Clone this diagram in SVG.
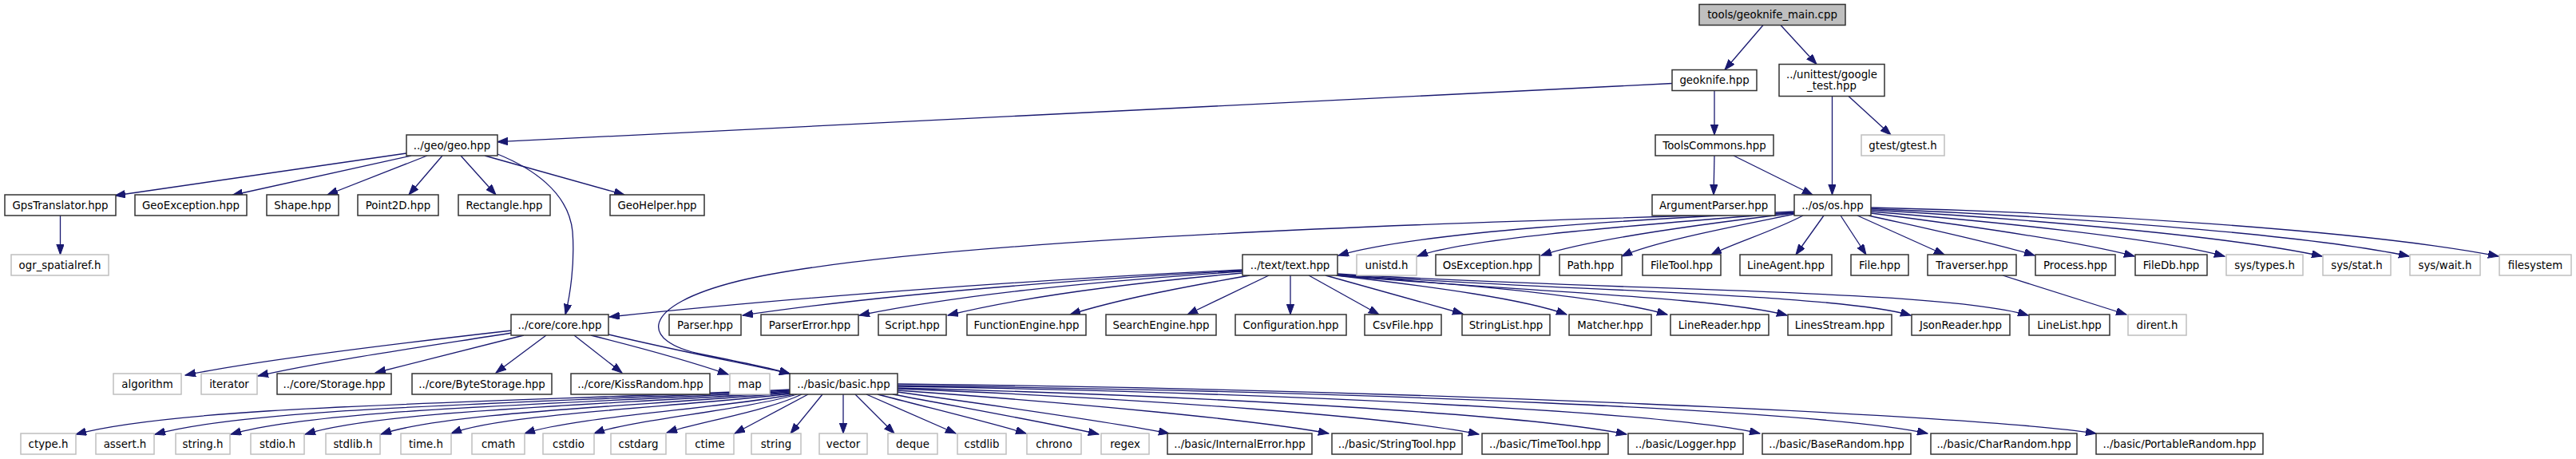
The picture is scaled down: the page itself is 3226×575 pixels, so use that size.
<svg xmlns="http://www.w3.org/2000/svg" width="3226" height="575" viewBox="0 0 3226 575">
<style>
.n rect{fill:#fff;stroke:#333;stroke-width:1.5}
.n.g rect{stroke:#bfbfbf}
.n.r rect{fill:#bfbfbf}
text{font-family:"DejaVu Sans",sans-serif;font-size:13.33px;text-anchor:middle;fill:#000}
#edges path{fill:none;stroke:#191970;stroke-width:1.3;marker-end:url(#a)}
</style>
<defs>
<marker id="a" markerUnits="userSpaceOnUse" markerWidth="14" markerHeight="10" viewBox="0 0 14 10" refX="13" refY="4.7" orient="auto">
<path d="M0,0 L13,4.7 L0,9.4 z" fill="#191970" stroke="#191970" stroke-width="1"/>
</marker>
</defs>
<rect width="3226" height="575" fill="#fff"/>
<g id="edges">
<path d="M2208,31.5 L2160,87.5"/>
<path d="M2230,31.5 L2275,80.5"/>
<path d="M2147,113.5 L2147,169"/>
<path d="M2094,104.5 L623,177.7"/>
<path d="M2294.5,120.5 L2294.5,244"/>
<path d="M2315,120.5 L2368,169"/>
<path d="M2147,195 L2146,244"/>
<path d="M2171,195 L2270,244"/>
<path d="M509,192 L144,245"/>
<path d="M515,195 L291,244.5"/>
<path d="M535,195 L410,244"/>
<path d="M554,195 L512,244"/>
<path d="M577,195 L621,244"/>
<path d="M607,195 L782,244"/>
<path d="M623,193 C665,210 712,240 717,290 C720,330 714,370 708,394"/>
<path d="M75.5,270 L75.5,319"/>
<path d="M2247,265 C2050,275 1780,290 1676,320"/>
<path d="M2247,266 C2080,280 1840,297 1775,321"/>
<path d="M2247,267 C2120,282 1990,300 1930,320"/>
<path d="M2248,268 C2170,284 2070,303 2031,321"/>
<path d="M2258,270 C2220,290 2170,305 2143,319"/>
<path d="M2284,270 L2249,319"/>
<path d="M2305,270 L2337,319"/>
<path d="M2326,270 L2435,319"/>
<path d="M2340,270 C2420,288 2500,305 2548,320"/>
<path d="M2343,267 C2460,282 2600,302 2673,321"/>
<path d="M2343,265 C2490,277 2700,298 2786,321"/>
<path d="M2343,263 C2520,273 2790,295 2908,321"/>
<path d="M2343,261.5 C2560,270 2880,292 3017,321"/>
<path d="M2343,260 C2600,266 2960,288 3129,321"/>
<path d="M2247,267 C1600,283 1100,310 925,352 C800,383 800,428 880,444 C930,454 965,461 989,468"/>
<path d="M1556,338 C1300,350 1000,372 763,397"/>
<path d="M1556,339 C1320,352 1100,370 930,395"/>
<path d="M1556,340 C1350,354 1200,370 1076,395"/>
<path d="M1556,342 C1400,356 1280,372 1187,395"/>
<path d="M1565,345 C1480,360 1400,375 1340,394"/>
<path d="M1589,345 L1487,394"/>
<path d="M1616,345 L1616,394"/>
<path d="M1639,345 L1727,394"/>
<path d="M1660,345 L1832,393"/>
<path d="M1673,345 C1800,360 1910,375 1962,394"/>
<path d="M1675,345 C1850,357 2010,372 2088,394"/>
<path d="M1675,345 C1900,365 2150,372 2238,395"/>
<path d="M1675,344 C1950,364 2300,368 2393,395"/>
<path d="M1675,343 C2000,364 2430,362 2540,395"/>
<path d="M2508,345 L2663,394"/>
<path d="M641,414 C500,430 320,452 232,470"/>
<path d="M641,417 C540,433 400,453 323,471"/>
<path d="M656,420 L470,467"/>
<path d="M684,420 L621,467"/>
<path d="M719,420 L779,467"/>
<path d="M740,420 C820,440 880,458 912,469"/>
<path d="M762,419 C850,440 930,455 989,468"/>
<path d="M990,488 C600,505 230,508 95,544"/>
<path d="M990,489 C650,506 320,510 194,544"/>
<path d="M990,490 C700,507 400,512 289,544"/>
<path d="M990,491 C750,508 480,514 382,544"/>
<path d="M991,492 C800,509 560,516 477,544"/>
<path d="M992,493 C850,510 630,518 565,543"/>
<path d="M994,494 C900,512 720,522 657,543"/>
<path d="M998,494 C930,514 790,526 744,543"/>
<path d="M1004,494 C960,515 870,530 835,542"/>
<path d="M1012,494 L920,543"/>
<path d="M1030,494 L990,543"/>
<path d="M1056,494 L1056,543"/>
<path d="M1071,494 L1120,543"/>
<path d="M1085,494 L1197,543"/>
<path d="M1099,494 C1180,515 1250,532 1285,543"/>
<path d="M1118,494 C1230,515 1330,533 1376,544"/>
<path d="M1124,491 C1260,510 1400,530 1464,543"/>
<path d="M1124,489 C1350,505 1580,527 1664,543"/>
<path d="M1124,487 C1450,500 1750,523 1852,544"/>
<path d="M1124,486 C1520,496 1920,520 2037,544"/>
<path d="M1124,484 C1600,492 2080,515 2204,543"/>
<path d="M1124,483 C1700,490 2280,514 2414,543"/>
<path d="M1124,481 C1760,488 2480,520 2625,543"/>
</g>
<g id="n_main" class="n r"><rect x="2128" y="5.5" width="183" height="26"/><text x="2219.5" y="23">tools/geoknife_main.cpp</text></g>
<g id="n_geoknife" class="n"><rect x="2094" y="87.5" width="106" height="26"/><text x="2147" y="105">geoknife.hpp</text></g>
<g id="n_google_test" class="n"><rect x="2228" y="80.5" width="132" height="40"/><text x="2294" y="97.5">../unittest/google</text><text x="2294" y="111.5">_test.hpp</text></g>
<g id="n_geo" class="n"><rect x="509" y="169" width="114" height="26"/><text x="566" y="186.5">../geo/geo.hpp</text></g>
<g id="n_toolscommons" class="n"><rect x="2073" y="169" width="148" height="26"/><text x="2147" y="186.5">ToolsCommons.hpp</text></g>
<g id="n_gtest" class="n g"><rect x="2331" y="169" width="104" height="26"/><text x="2383" y="186.5">gtest/gtest.h</text></g>
<g id="n_gpstranslator" class="n"><rect x="6" y="244" width="139" height="26"/><text x="75.5" y="261.5">GpsTranslator.hpp</text></g>
<g id="n_geoexception" class="n"><rect x="169" y="244" width="140" height="26"/><text x="239" y="261.5">GeoException.hpp</text></g>
<g id="n_shape" class="n"><rect x="334" y="244" width="90" height="26"/><text x="379" y="261.5">Shape.hpp</text></g>
<g id="n_point2d" class="n"><rect x="448" y="244" width="101" height="26"/><text x="498.5" y="261.5">Point2D.hpp</text></g>
<g id="n_rectangle" class="n"><rect x="574" y="244" width="115" height="26"/><text x="631.5" y="261.5">Rectangle.hpp</text></g>
<g id="n_geohelper" class="n"><rect x="764" y="244" width="118" height="26"/><text x="823" y="261.5">GeoHelper.hpp</text></g>
<g id="n_argumentparser" class="n"><rect x="2069" y="244" width="154" height="26"/><text x="2146" y="261.5">ArgumentParser.hpp</text></g>
<g id="n_os" class="n"><rect x="2247" y="244" width="96" height="26"/><text x="2295" y="261.5">../os/os.hpp</text></g>
<g id="n_ogr" class="n g"><rect x="14" y="319" width="122" height="26"/><text x="75" y="336.5">ogr_spatialref.h</text></g>
<g id="n_text" class="n"><rect x="1556" y="319" width="119" height="26"/><text x="1615.5" y="336.5">../text/text.hpp</text></g>
<g id="n_unistd" class="n g"><rect x="1699" y="319" width="75" height="26"/><text x="1736.5" y="336.5">unistd.h</text></g>
<g id="n_osexception" class="n"><rect x="1798" y="319" width="130" height="26"/><text x="1863" y="336.5">OsException.hpp</text></g>
<g id="n_path" class="n"><rect x="1953" y="319" width="78" height="26"/><text x="1992" y="336.5">Path.hpp</text></g>
<g id="n_filetool" class="n"><rect x="2057" y="319" width="98" height="26"/><text x="2106" y="336.5">FileTool.hpp</text></g>
<g id="n_lineagent" class="n"><rect x="2179" y="319" width="115" height="26"/><text x="2236.5" y="336.5">LineAgent.hpp</text></g>
<g id="n_file" class="n"><rect x="2318" y="319" width="72" height="26"/><text x="2354" y="336.5">File.hpp</text></g>
<g id="n_traverser" class="n"><rect x="2414" y="319" width="111" height="26"/><text x="2469.5" y="336.5">Traverser.hpp</text></g>
<g id="n_process" class="n"><rect x="2549" y="319" width="100" height="26"/><text x="2599" y="336.5">Process.hpp</text></g>
<g id="n_filedb" class="n"><rect x="2674" y="319" width="90" height="26"/><text x="2719" y="336.5">FileDb.hpp</text></g>
<g id="n_systypes" class="n g"><rect x="2788" y="319" width="96" height="26"/><text x="2836" y="336.5">sys/types.h</text></g>
<g id="n_sysstat" class="n g"><rect x="2909" y="319" width="85" height="26"/><text x="2951.5" y="336.5">sys/stat.h</text></g>
<g id="n_syswait" class="n g"><rect x="3018" y="319" width="88" height="26"/><text x="3062" y="336.5">sys/wait.h</text></g>
<g id="n_filesystem" class="n g"><rect x="3130" y="319" width="90" height="26"/><text x="3175" y="336.5">filesystem</text></g>
<g id="n_core" class="n"><rect x="640" y="394" width="122" height="26"/><text x="701" y="411.5">../core/core.hpp</text></g>
<g id="n_parser" class="n"><rect x="838" y="394" width="90" height="26"/><text x="883" y="411.5">Parser.hpp</text></g>
<g id="n_parsererror" class="n"><rect x="953" y="394" width="122" height="26"/><text x="1014" y="411.5">ParserError.hpp</text></g>
<g id="n_script" class="n"><rect x="1100" y="394" width="85" height="26"/><text x="1142.5" y="411.5">Script.hpp</text></g>
<g id="n_functionengine" class="n"><rect x="1211" y="394" width="149" height="26"/><text x="1285.5" y="411.5">FunctionEngine.hpp</text></g>
<g id="n_searchengine" class="n"><rect x="1385" y="394" width="138" height="26"/><text x="1454" y="411.5">SearchEngine.hpp</text></g>
<g id="n_configuration" class="n"><rect x="1547" y="394" width="139" height="26"/><text x="1616.5" y="411.5">Configuration.hpp</text></g>
<g id="n_csvfile" class="n"><rect x="1709" y="394" width="96" height="26"/><text x="1757" y="411.5">CsvFile.hpp</text></g>
<g id="n_stringlist" class="n"><rect x="1831" y="394" width="110" height="26"/><text x="1886" y="411.5">StringList.hpp</text></g>
<g id="n_matcher" class="n"><rect x="1965" y="394" width="103" height="26"/><text x="2016.5" y="411.5">Matcher.hpp</text></g>
<g id="n_linereader" class="n"><rect x="2092" y="394" width="123" height="26"/><text x="2153.5" y="411.5">LineReader.hpp</text></g>
<g id="n_linesstream" class="n"><rect x="2239" y="394" width="130" height="26"/><text x="2304" y="411.5">LinesStream.hpp</text></g>
<g id="n_jsonreader" class="n"><rect x="2394" y="394" width="123" height="26"/><text x="2455.5" y="411.5">JsonReader.hpp</text></g>
<g id="n_linelist" class="n"><rect x="2541" y="394" width="101" height="26"/><text x="2591.5" y="411.5">LineList.hpp</text></g>
<g id="n_dirent" class="n g"><rect x="2665" y="394" width="73" height="26"/><text x="2701.5" y="411.5">dirent.h</text></g>
<g id="n_algorithm" class="n g"><rect x="142" y="468" width="85" height="26"/><text x="184.5" y="485.5">algorithm</text></g>
<g id="n_iterator" class="n g"><rect x="252" y="468" width="70" height="26"/><text x="287" y="485.5">iterator</text></g>
<g id="n_storage" class="n"><rect x="347" y="468" width="143" height="26"/><text x="418.5" y="485.5">../core/Storage.hpp</text></g>
<g id="n_bytestorage" class="n"><rect x="516" y="468" width="175" height="26"/><text x="603.5" y="485.5">../core/ByteStorage.hpp</text></g>
<g id="n_kissrandom" class="n"><rect x="715" y="468" width="174" height="26"/><text x="802" y="485.5">../core/KissRandom.hpp</text></g>
<g id="n_map" class="n g"><rect x="914" y="468" width="50" height="26"/><text x="939" y="485.5">map</text></g>
<g id="n_basic" class="n"><rect x="989" y="468" width="135" height="26"/><text x="1056.5" y="485.5">../basic/basic.hpp</text></g>
<g id="n_ctype" class="n g"><rect x="26" y="543" width="69" height="26"/><text x="60.5" y="560.5">ctype.h</text></g>
<g id="n_assert" class="n g"><rect x="120" y="543" width="73" height="26"/><text x="156.5" y="560.5">assert.h</text></g>
<g id="n_stringh" class="n g"><rect x="220" y="543" width="68" height="26"/><text x="254" y="560.5">string.h</text></g>
<g id="n_stdio" class="n g"><rect x="314" y="543" width="67" height="26"/><text x="347.5" y="560.5">stdio.h</text></g>
<g id="n_stdlib" class="n g"><rect x="408" y="543" width="68" height="26"/><text x="442" y="560.5">stdlib.h</text></g>
<g id="n_time" class="n g"><rect x="502" y="543" width="63" height="26"/><text x="533.5" y="560.5">time.h</text></g>
<g id="n_cmath" class="n g"><rect x="591" y="543" width="66" height="26"/><text x="624" y="560.5">cmath</text></g>
<g id="n_cstdio" class="n g"><rect x="680" y="543" width="64" height="26"/><text x="712" y="560.5">cstdio</text></g>
<g id="n_cstdarg" class="n g"><rect x="765" y="543" width="69" height="26"/><text x="799.5" y="560.5">cstdarg</text></g>
<g id="n_ctime" class="n g"><rect x="859" y="543" width="60" height="26"/><text x="889" y="560.5">ctime</text></g>
<g id="n_string" class="n g"><rect x="941" y="543" width="62" height="26"/><text x="972" y="560.5">string</text></g>
<g id="n_vector" class="n g"><rect x="1026" y="543" width="60" height="26"/><text x="1056" y="560.5">vector</text></g>
<g id="n_deque" class="n g"><rect x="1112" y="543" width="62" height="26"/><text x="1143" y="560.5">deque</text></g>
<g id="n_cstdlib" class="n g"><rect x="1199" y="543" width="61" height="26"/><text x="1229.5" y="560.5">cstdlib</text></g>
<g id="n_chrono" class="n g"><rect x="1286" y="543" width="68" height="26"/><text x="1320" y="560.5">chrono</text></g>
<g id="n_regex" class="n g"><rect x="1379" y="543" width="60" height="26"/><text x="1409" y="560.5">regex</text></g>
<g id="n_internalerror" class="n"><rect x="1462" y="543" width="181" height="26"/><text x="1552.5" y="560.5">../basic/InternalError.hpp</text></g>
<g id="n_stringtool" class="n"><rect x="1668" y="543" width="163" height="26"/><text x="1749.5" y="560.5">../basic/StringTool.hpp</text></g>
<g id="n_timetool" class="n"><rect x="1856" y="543" width="158" height="26"/><text x="1935" y="560.5">../basic/TimeTool.hpp</text></g>
<g id="n_logger" class="n"><rect x="2039" y="543" width="144" height="26"/><text x="2111" y="560.5">../basic/Logger.hpp</text></g>
<g id="n_baserandom" class="n"><rect x="2207" y="543" width="186" height="26"/><text x="2300" y="560.5">../basic/BaseRandom.hpp</text></g>
<g id="n_charrandom" class="n"><rect x="2418" y="543" width="183" height="26"/><text x="2509.5" y="560.5">../basic/CharRandom.hpp</text></g>
<g id="n_portablerandom" class="n"><rect x="2625" y="543" width="209" height="26"/><text x="2729.5" y="560.5">../basic/PortableRandom.hpp</text></g>
</svg>
